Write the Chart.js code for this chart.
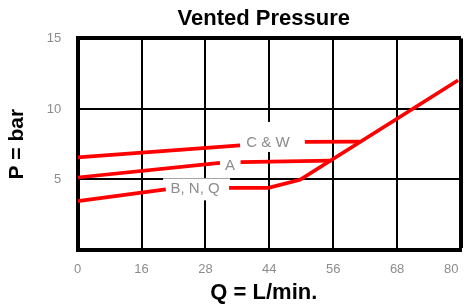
<!DOCTYPE html>
<html><head><meta charset="utf-8">
<script src="https://cdn.jsdelivr.net/npm/chart.js@4.4.0/dist/chart.umd.min.js"></script>
<style>html,body{margin:0;padding:0;background:#fff}</style>
</head><body>
<canvas id="c" width="464" height="308"></canvas>
<script>
// ---- data ----
const xTickLabels = ['0', '16', '28', '44', '56', '68', '80'];
const yTickValues = [0, 5, 10, 15];
const cwLow   = [[0, 6.56], [33.9, 7.41]];
const cwHigh  = [[47.4, 7.66], [58.9, 7.68]];
const aLow    = [[0, 5.14], [29.7, 6.18]];
const aHigh   = [[34.0, 6.23], [53.0, 6.33]];
const bnqLow  = [[0, 3.47], [18.4, 4.30]];
const bnqHigh = [[31.6, 4.41], [39.8, 4.41], [46.4, 4.98], [79.4, 12.03]];
const curveNames = ['C & W', 'A', 'B, N, Q'];
const curveNameAt = [[39.7, 7.66], [31.8, 6.02], [24.5, 4.37]];

const XMAX = 80, YMAX = 15;
const FONT = '"Liberation Sans", Arial, Helvetica, sans-serif';
const RED = '#ff0000';
const GRAY = '#8c8c8c';

function series(pts) {
  return {
    data: pts.map(p => ({x: p[0], y: p[1]})),
    borderColor: RED, borderWidth: 3.7, pointRadius: 0, tension: 0,
    fill: false, borderCapStyle: 'butt', borderJoinStyle: 'miter'
  };
}

// label boxes (white backgrounds, px offsets: left, right, top, bottom)
const labelBoxes = [[26, 32, 20, 10], [9, 9, 9, 9], [32, 35, 10, 12]];

const labelPlugin = {
  id: 'curveLabels',
  beforeDatasetsDraw(chart) {
    const {ctx, scales: {x, y}} = chart;
    ctx.save();
    ctx.font = '15px ' + FONT;
    ctx.textAlign = 'center';
    ctx.textBaseline = 'middle';
    curveNames.forEach((t, i) => {
      const px = x.getPixelForValue(curveNameAt[i][0]);
      const py = y.getPixelForValue(curveNameAt[i][1]);
      const b = labelBoxes[i];
      ctx.fillStyle = '#fff';
      ctx.fillRect(px - b[0], py - b[2], b[0] + b[1], b[2] + b[3]);
      ctx.fillStyle = GRAY;
      ctx.fillText(t, px, py + 1);
    });
    ctx.restore();
  }
};

new Chart(document.getElementById('c'), {
  type: 'line',
  data: { datasets: [cwLow, cwHigh, aLow, aHigh, bnqLow, bnqHigh].map(series) },
  options: {
    responsive: false, animation: false, devicePixelRatio: 1,
    layout: { padding: { left: 0, right: 3, top: 0, bottom: 0 } },
    plugins: {
      legend: { display: false },
      tooltip: { enabled: false },
      title: {
        display: true, text: 'Vented Pressure\u2002', fullSize: false,
        color: '#000', font: { family: FONT, size: 22, weight: 'bold' },
        padding: { top: 6, bottom: 6 }
      }
    },
    scales: {
      x: {
        type: 'linear', min: 0, max: XMAX,
        afterBuildTicks: s => { s.ticks = xTickLabels.map((l, i) => ({ value: i * XMAX / (xTickLabels.length - 1) })); },
        afterFit: s => { s.paddingRight = 0; },
        ticks: {
          padding: 12, color: GRAY, font: { family: FONT, size: 13 }, maxRotation: 0,
          callback: (v, i) => i === xTickLabels.length - 1 ? xTickLabels[i] + '\u2002\u2002\u2002' : xTickLabels[i]
        },
        grid: {
          color: '#000', drawTicks: false,
          lineWidth: c => (c.tick && c.tick.value === XMAX) ? 4 : 2
        },
        border: { display: true, color: '#000', width: 4 },
        title: {
          display: true, text: 'Q = L/min.\u2002', color: '#000',
          font: { family: FONT, size: 22, weight: 'bold' },
          padding: { top: -10, bottom: 2 }
        }
      },
      y: {
        type: 'linear', min: 0, max: YMAX,
        afterBuildTicks: s => { s.ticks = yTickValues.map(v => ({ value: v })); },
        ticks: {
          padding: 16.5, color: GRAY, font: { family: FONT, size: 13 },
          callback: v => v === 0 ? '' : String(v)
        },
        grid: {
          color: '#000', drawTicks: false,
          lineWidth: c => (c.tick && c.tick.value === YMAX) ? 4 : 2
        },
        border: { display: true, color: '#000', width: 4 },
        title: {
          display: true, text: 'P = bar', color: '#000',
          font: { family: FONT, size: 21, weight: 'bold' },
          padding: { top: 5, bottom: 0 }
        }
      }
    }
  },
  plugins: [labelPlugin]
});
</script>
</body></html>
